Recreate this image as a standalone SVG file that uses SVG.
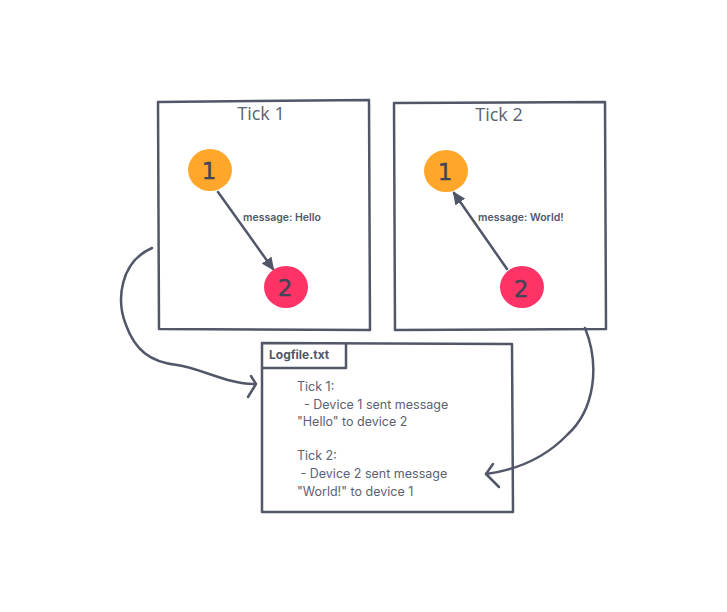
<svg xmlns="http://www.w3.org/2000/svg" width="727" height="612" viewBox="0 0 727 612">
<defs>
<style>
.box{fill:none;stroke:#515769;stroke-width:2.5;stroke-linejoin:round}
.con{fill:none;stroke:#515769;stroke-width:2.5;stroke-linecap:round;stroke-linejoin:round}
.title{font-family:"Open Sans","Liberation Sans",sans-serif;font-size:18px;fill:#5b6172;text-anchor:middle}
.lbl{font-family:"Inter","Liberation Sans",sans-serif;font-size:10.5px;font-weight:600;fill:#515769}
.dig{font-family:"DejaVu Sans",sans-serif;font-size:23px;fill:#3f4556;text-anchor:middle;stroke:#3f4556;stroke-width:0.4}
.log{font-family:"Inter","Liberation Sans",sans-serif;font-size:12.5px;fill:#5b6172}
.o{fill:#FFA62B}
.r{fill:#FF3366}
</style>
<marker id="ah" markerWidth="14" markerHeight="12" refX="11" refY="6" orient="auto" markerUnits="userSpaceOnUse">
<path d="M0,0 L13,6 L0,12 Z" fill="#515769"/>
</marker>
</defs>
<rect width="727" height="612" fill="#ffffff"/>

<g id="tick1">
<path class="box" d="M158,102 L369,100 L370,330 L159,329 Z"/>
<text class="title" x="261" y="120">Tick 1</text>
</g>
<g id="tick2">
<path class="box" d="M394,103 L605,102 L606,329 L395,330 Z"/>
<text class="title" x="499" y="121">Tick 2</text>
</g>

<g id="connectors">
<line class="con" x1="218" y1="192" x2="273" y2="269" marker-end="url(#ah)"/>
<line class="con" x1="507" y1="269" x2="454" y2="193" marker-end="url(#ah)"/>
<text class="lbl" x="243" y="221">message: Hello</text>
<text class="lbl" x="478" y="221">message: World!</text>
<path class="con" d="M152,248 C120,262 116,300 126,325 C135,350 150,362 177,365 C200,368 230,385 255,384"/>
<path class="con" d="M251,376 L256,384 L248,397"/>
<path class="con" d="M585,328 C600,365 595,410 567,435 C545,458 515,470 486,474"/>
<path class="con" d="M493,464 L486,474 L499,487"/>
</g>

<g id="t1n1"><ellipse class="o" cx="210" cy="170" rx="22" ry="21"/><text class="dig" x="209" y="179">1</text></g>
<g id="t1n2"><ellipse class="r" cx="286" cy="287" rx="22" ry="21"/><text class="dig" x="285" y="296">2</text></g>
<g id="t2n1"><ellipse class="o" cx="446" cy="171" rx="22" ry="21"/><text class="dig" x="445" y="180">1</text></g>
<g id="t2n2"><ellipse class="r" cx="522" cy="287" rx="22" ry="21"/><text class="dig" x="521" y="297">2</text></g>

<g id="logfile">
<path class="box" d="M262,343 L512,344 L513,512 L262,512 Z"/>
<path class="box" d="M262,368 L346,368 L346,344"/>
<text class="lbl" x="269" y="359" style="font-size:12px;font-weight:700">Logfile.txt</text>
<text class="log" x="297" y="391">Tick 1:</text>
<text class="log" x="297" y="409" xml:space="preserve">  - Device 1 sent message</text>
<text class="log" x="297" y="426">"Hello" to device 2</text>
<text class="log" x="297" y="460">Tick 2:</text>
<text class="log" x="297" y="478" xml:space="preserve"> - Device 2 sent message</text>
<text class="log" x="297" y="496">"World!" to device 1</text>
</g>
</svg>
